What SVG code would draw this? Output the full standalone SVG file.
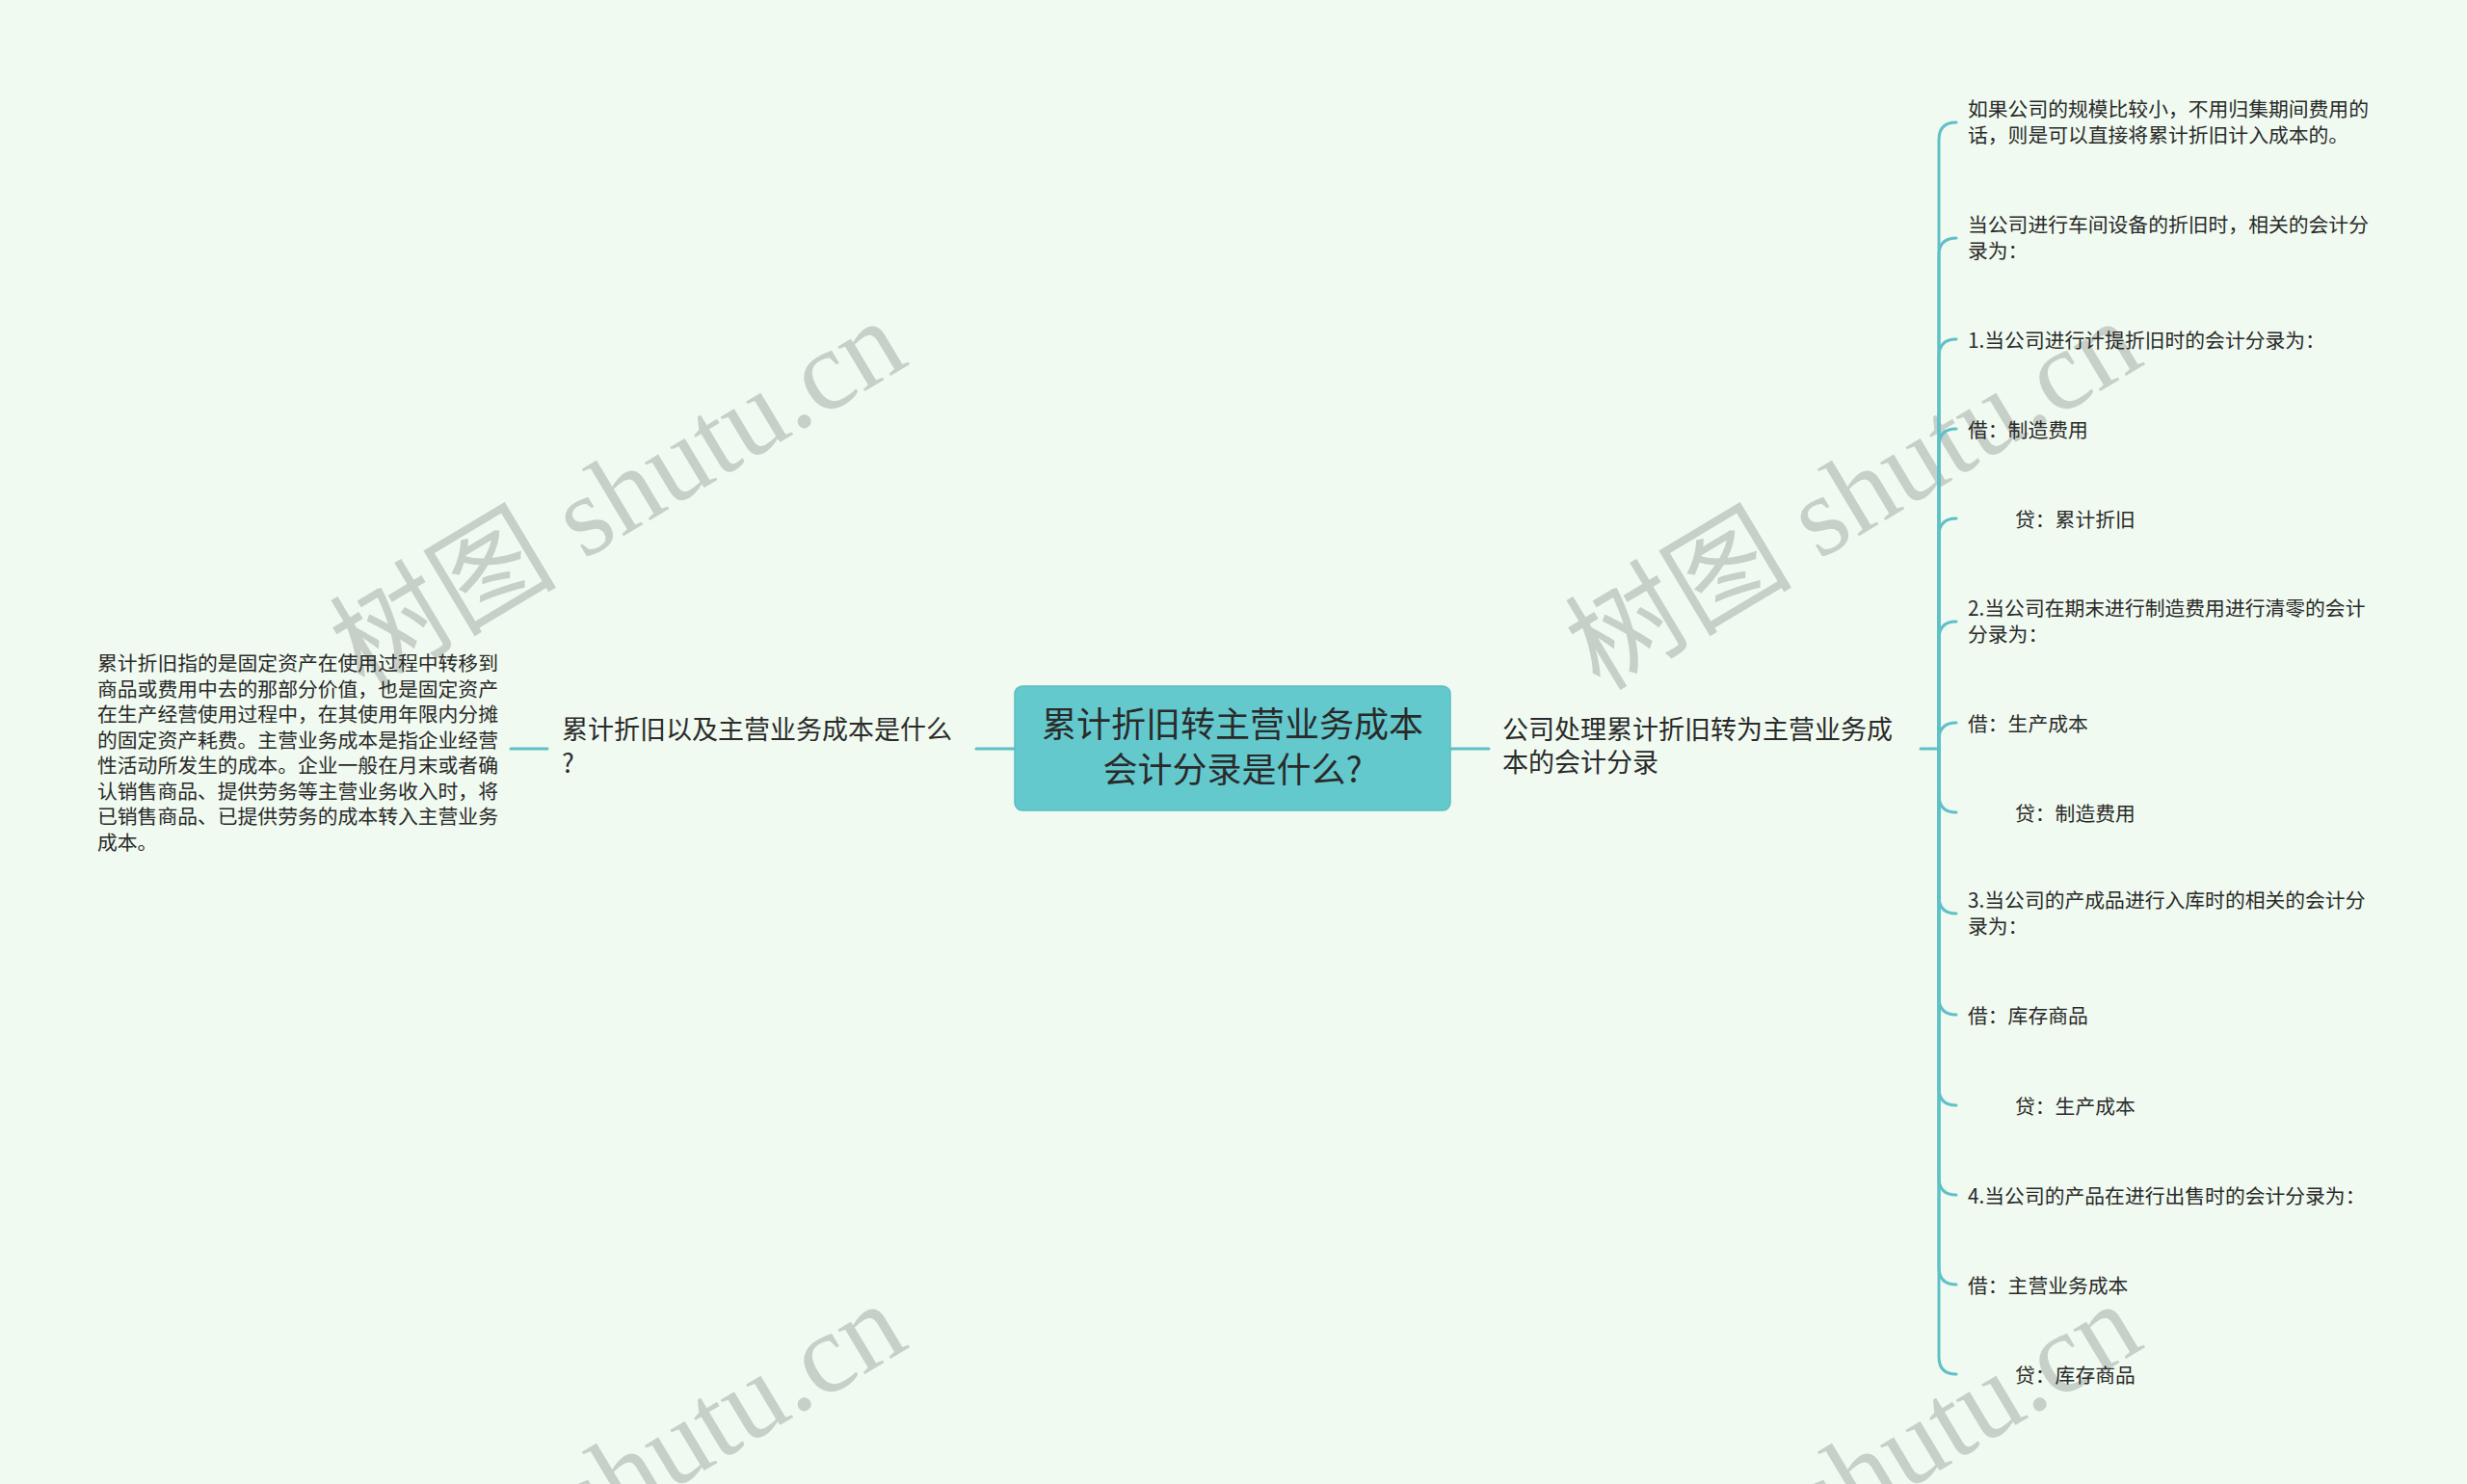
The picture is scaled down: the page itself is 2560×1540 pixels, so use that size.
<svg xmlns="http://www.w3.org/2000/svg" width="2560" height="1540" viewBox="0 0 2560 1540">
<style>
.bg{fill:#F0FAF0}
.wm{font-family:"Liberation Serif","Noto Sans CJK SC",serif;font-size:118px;fill:#C6CFC8}
.t{font-family:"Noto Sans CJK SC","Noto Sans",sans-serif;fill:#2A2A2A}
.c{font-size:36px;text-anchor:middle}
.b{font-size:27px}
.s{font-size:20.8px}
.ln{fill:none;stroke:#5FC0C8;stroke-width:3;stroke-linecap:round}
</style>
<rect class="bg" x="0" y="0" width="2560" height="1540"/>
<g id="watermarks">
<text class="wm" transform="translate(378,718) rotate(-31)">树图 shutu.cn</text>
<text class="wm" transform="translate(1660,718) rotate(-31)">树图 shutu.cn</text>
<text class="wm" transform="translate(378,1738) rotate(-31)">树图 shutu.cn</text>
<text class="wm" transform="translate(1660,1738) rotate(-31)">树图 shutu.cn</text>
</g>
<g id="connectors">
<path class="ln" d="M1053,777 H1013"/>
<path class="ln" d="M568,777 H530"/>
<path class="ln" d="M1505,777 H1545"/>
<path class="ln" d="M1993,777 H2012"/>
<path class="ln" d="M2012,777 V145 Q2012,127 2030,127"/>
<path class="ln" d="M2012,777 V265 Q2012,247 2030,247"/>
<path class="ln" d="M2012,777 V370 Q2012,352 2030,352"/>
<path class="ln" d="M2012,777 V463 Q2012,445 2030,445"/>
<path class="ln" d="M2012,777 V556 Q2012,538 2030,538"/>
<path class="ln" d="M2012,777 V663 Q2012,645 2030,645"/>
<path class="ln" d="M2012,777 V768 Q2012,750 2030,750"/>
<path class="ln" d="M2012,777 V825 Q2012,843 2030,843"/>
<path class="ln" d="M2012,777 V930 Q2012,948 2030,948"/>
<path class="ln" d="M2012,777 V1035 Q2012,1053 2030,1053"/>
<path class="ln" d="M2012,777 V1129 Q2012,1147 2030,1147"/>
<path class="ln" d="M2012,777 V1222 Q2012,1240 2030,1240"/>
<path class="ln" d="M2012,777 V1315 Q2012,1333 2030,1333"/>
<path class="ln" d="M2012,777 V1408 Q2012,1426 2030,1426"/>
</g>
<g id="root">
<rect x="1053" y="712" width="452" height="129" rx="8" fill="#64C9CD" stroke="#5ABDC2" stroke-width="1.5"/>
<text class="t c" x="1279" y="765">累计折旧转主营业务成本</text>
<text class="t c" x="1279" y="812">会计分录是什么?</text>
</g>
<g id="left-branch">
<text class="t b" x="583" y="767">累计折旧以及主营业务成本是什么</text>
<text class="t b" x="583" y="802">?</text>
</g>
<g id="left-leaf">
<text class="t s" x="101" y="696">累计折旧指的是固定资产在使用过程中转移到</text>
<text class="t s" x="101" y="722.5">商品或费用中去的那部分价值，也是固定资产</text>
<text class="t s" x="101" y="749">在生产经营使用过程中，在其使用年限内分摊</text>
<text class="t s" x="101" y="775.5">的固定资产耗费。主营业务成本是指企业经营</text>
<text class="t s" x="101" y="802">性活动所发生的成本。企业一般在月末或者确</text>
<text class="t s" x="101" y="828.5">认销售商品、提供劳务等主营业务收入时，将</text>
<text class="t s" x="101" y="855">已销售商品、已提供劳务的成本转入主营业务</text>
<text class="t s" x="101" y="881.5">成本。</text>
</g>
<g id="right-branch">
<text class="t b" x="1559" y="767">公司处理累计折旧转为主营业务成</text>
<text class="t b" x="1559" y="801">本的会计分录</text>
</g>
<g id="r1"><text class="t s" x="2042" y="121">如果公司的规模比较小，不用归集期间费用的</text><text class="t s" x="2042" y="148">话，则是可以直接将累计折旧计入成本的。</text></g>
<g id="r2"><text class="t s" x="2042" y="241">当公司进行车间设备的折旧时，相关的会计分</text><text class="t s" x="2042" y="268">录为：</text></g>
<g id="r3"><text class="t s" x="2042" y="361">1.当公司进行计提折旧时的会计分录为：</text></g>
<g id="r4"><text class="t s" x="2042" y="454">借：制造费用</text></g>
<g id="r5"><text class="t s" x="2091" y="547">贷：累计折旧</text></g>
<g id="r6"><text class="t s" x="2042" y="639">2.当公司在期末进行制造费用进行清零的会计</text><text class="t s" x="2042" y="666">分录为：</text></g>
<g id="r7"><text class="t s" x="2042" y="759">借：生产成本</text></g>
<g id="r8"><text class="t s" x="2091" y="852">贷：制造费用</text></g>
<g id="r9"><text class="t s" x="2042" y="942">3.当公司的产成品进行入库时的相关的会计分</text><text class="t s" x="2042" y="969">录为：</text></g>
<g id="r10"><text class="t s" x="2042" y="1062">借：库存商品</text></g>
<g id="r11"><text class="t s" x="2091" y="1156">贷：生产成本</text></g>
<g id="r12"><text class="t s" x="2042" y="1249">4.当公司的产品在进行出售时的会计分录为：</text></g>
<g id="r13"><text class="t s" x="2042" y="1342">借：主营业务成本</text></g>
<g id="r14"><text class="t s" x="2091" y="1435">贷：库存商品</text></g>
</svg>
